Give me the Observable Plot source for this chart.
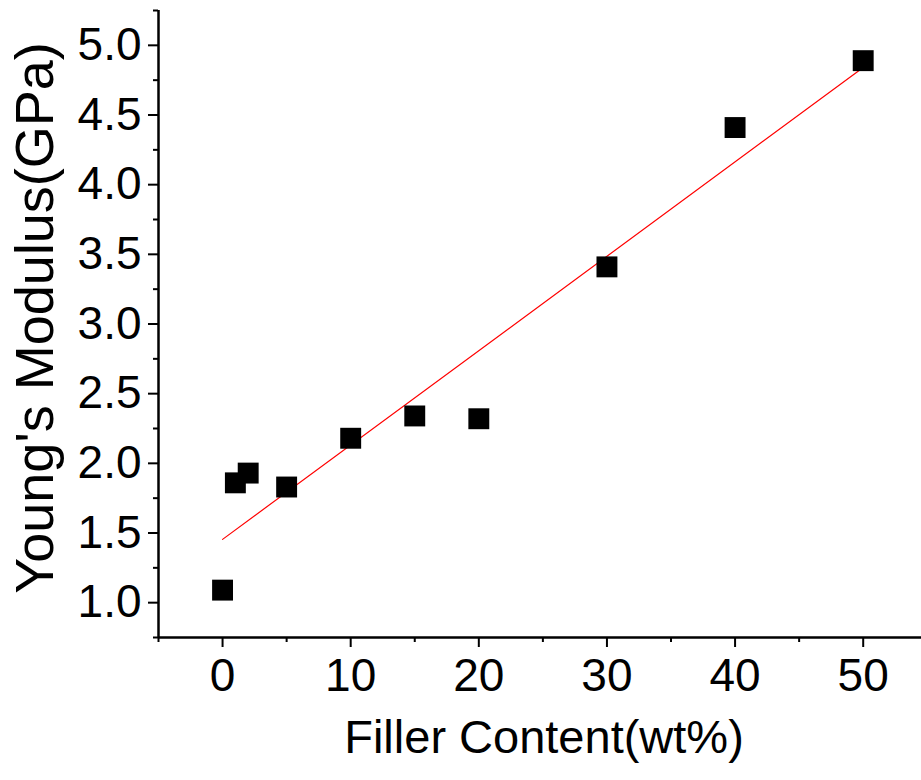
<!DOCTYPE html>
<html>
<head>
<meta charset="utf-8">
<script src="https://cdn.jsdelivr.net/npm/d3@7"></script>
<script src="https://cdn.jsdelivr.net/npm/@observablehq/plot@0.6"></script>
<style>
  html, body { margin: 0; padding: 0; background: #fff; }
  #chart svg { display: block; }
</style>
</head>
<body>
<div id="chart"></div>
<script>
const fillerContent = [0, 1, 2, 5, 10, 15, 20, 30, 40, 50];
const youngsModulus = [1.09, 1.86, 1.93, 1.83, 2.18, 2.34, 2.32, 3.41, 4.41, 4.89];
const xMajorTicks = [0, 10, 20, 30, 40, 50];
const xMinorTicks = [-5, 5, 15, 25, 35, 45];
const yMajorTicks = [1.0, 1.5, 2.0, 2.5, 3.0, 3.5, 4.0, 4.5, 5.0];
const yMinorTicks = [0.75, 1.25, 1.75, 2.25, 2.75, 3.25, 3.75, 4.25, 4.75, 5.25];
const xTitle = "Filler Content(wt%)";
const yTitle = "Young's Modulus(GPa)";

const data = fillerContent.map((x, i) => ({x, y: youngsModulus[i]}));
const font = "'Liberation Sans', Arial, sans-serif";

const chart = Plot.plot({
  width: 921,
  height: 780,
  marginTop: 10,
  marginBottom: 143,
  marginLeft: 158,
  marginRight: 0,
  style: {fontFamily: font, color: "#000", background: "#fff"},
  x: {domain: [-5, 54.55]},
  y: {domain: [0.75, 5.25]},
  marks: [
    Plot.axisX({ticks: xMajorTicks, tickSize: 10, tickPadding: 11, fontSize: 46, strokeWidth: 2, label: null, tickFormat: d3.format("d")}),
    Plot.axisX({ticks: xMinorTicks, tickSize: 5, text: null, strokeWidth: 2, label: null}),
    Plot.axisY({ticks: yMajorTicks, tickSize: 10, tickPadding: 7, fontSize: 46, strokeWidth: 2, label: null, tickFormat: d3.format(".1f")}),
    Plot.axisY({ticks: yMinorTicks, tickSize: 5, text: null, strokeWidth: 2, label: null}),
    Plot.ruleY([0.75], {stroke: "#000", strokeWidth: 2.5}),
    Plot.ruleX([-5], {stroke: "#000", strokeWidth: 2.5}),
    Plot.linearRegressionY(data, {x: "x", y: "y", stroke: "red", strokeWidth: 1.2, ci: 0}),
    Plot.dot(data, {x: "x", y: "y", symbol: "square", r: 11.8, fill: "#000", stroke: null}),
    Plot.text([xTitle], {frameAnchor: "bottom", textAnchor: "middle", dx: 4, dy: 115, fontSize: 47, fill: "#000"}),
    Plot.text([yTitle], {frameAnchor: "left", textAnchor: "middle", dx: -123, dy: -6, rotate: -90, fontSize: 54, fill: "#000"})
  ]
});
document.getElementById("chart").appendChild(chart);
</script>
</body>
</html>
